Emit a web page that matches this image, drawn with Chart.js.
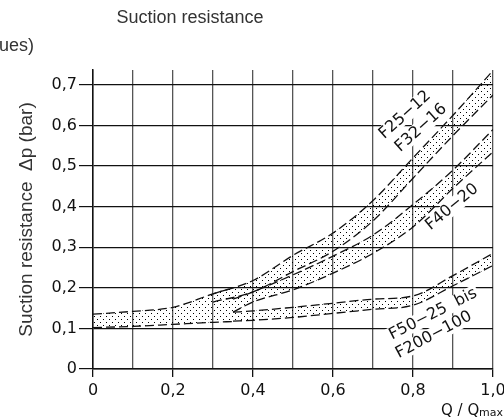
<!DOCTYPE html>
<html>
<head>
<meta charset="utf-8">
<script src="https://cdn.jsdelivr.net/npm/chart.js@4/dist/chart.umd.min.js"></script>
<style>
  html, body { margin: 0; padding: 0; background: #fff; }
  canvas { display: block; }
</style>
</head>
<body>
<canvas id="chart" width="504" height="418"></canvas>
<script>
// common start of all curves (low flow)
const qShared = [0, 0.1, 0.2, 0.3, 0.35];
const sharedHigh = [0.135, 0.142, 0.152, 0.185, 0.2];
const sharedLow = [0.102, 0.105, 0.110, 0.115, 0.117];

// F25-12 / F32-16
const qF25 = [0.3, 0.4, 0.5, 0.6, 0.7, 0.8, 0.9, 1.0];
const f25High = [0.185, 0.218, 0.28, 0.335, 0.415, 0.52, 0.625, 0.735];
const f25Low = [0.165, 0.19, 0.24, 0.29, 0.365, 0.47, 0.575, 0.675];

// F40-20
const qF40 = [0.35, 0.4, 0.5, 0.6, 0.7, 0.8, 0.9, 1.0];
const f40High = [0.172, 0.19, 0.232, 0.278, 0.33, 0.405, 0.49, 0.59];
const f40Low = [0.14, 0.165, 0.195, 0.236, 0.285, 0.35, 0.445, 0.535];

// F50-25 bis / F200-100
const qF50 = [0.35, 0.4, 0.5, 0.6, 0.7, 0.8, 0.9, 1.0];
const f50High = [0.14, 0.143, 0.152, 0.162, 0.172, 0.18, 0.23, 0.285];
const f50Low = [0.118, 0.12, 0.127, 0.137, 0.147, 0.157, 0.205, 0.255];

const xTicks = [0, 0.2, 0.4, 0.6, 0.8, 1.0];

// curve labels: text, position in chart units, angle
const curveLabels = [
    { text: "F25\u221212", q: 0.78, v: 0.626, angle: -42 },
    { text: "F32\u221216", q: 0.82, v: 0.594, angle: -42 },
    { text: "F40\u221220", q: 0.8975, v: 0.399, angle: -40 },
    { text: "F50\u221225  bis", q: 0.85, v: 0.135, angle: -27 },
    { text: "F200\u2212100", q: 0.852, v: 0.084, angle: -28 }
];

const fmt = v => (Math.abs(v) < 1e-9 ? "0" : v.toFixed(1).replace(".", ","));

function dotPattern() {
    let c = document.createElement("canvas");
    c.width = 6;
    c.height = 6;
    let g = c.getContext("2d");
    g.fillStyle = "#000";
    g.fillRect(1, 1, 1, 1);
    g.fillRect(4, 4, 1, 1);
    return g.createPattern(c, "repeat");
}

const pattern = dotPattern();

function pts(qs, vs) {
    return qs.map((q, i) => ({ x: q, y: vs[i] }));
}

function band(qs, high, low) {
    let edge = {
        borderColor: "#111",
        borderWidth: 1.3,
        borderDash: [9, 4],
        pointRadius: 0,
        cubicInterpolationMode: "monotone"
    };
    return [
        Object.assign({ data: pts(qs, high), fill: "+1", backgroundColor: pattern }, edge),
        Object.assign({ data: pts(qs, low), fill: false, backgroundColor: "transparent" }, edge)
    ];
}

const textPlugin = {
    id: "texts",
    afterDraw(chart) {
        let ctx = chart.ctx;
        let xs = chart.scales.x, ys = chart.scales.y;
        ctx.save();
        ctx.fillStyle = "#333";
        ctx.font = "18px 'Liberation Sans', Arial, sans-serif";
        ctx.textBaseline = "middle";
        ctx.textAlign = "center";
        ctx.fillText("Suction resistance", 190, 18);
        ctx.textAlign = "left";
        ctx.fillText("ues)", -1, 46);

        // x axis title
        ctx.fillStyle = "#111";
        ctx.font = "15px 'DejaVu Sans', sans-serif";
        ctx.textAlign = "left";
        ctx.textBaseline = "alphabetic";
        ctx.fillText("Q / Q", 441, 415);
        ctx.font = "11px 'DejaVu Sans', sans-serif";
        ctx.fillText("max", 479, 416);

        // curve labels
        ctx.font = "16px 'DejaVu Sans', sans-serif";
        ctx.textAlign = "center";
        ctx.textBaseline = "middle";
        for (const l of curveLabels) {
            let px = xs.getPixelForValue(l.q);
            let py = ys.getPixelForValue(l.v);
            ctx.save();
            ctx.translate(px, py);
            ctx.rotate(l.angle * Math.PI / 180);
            ctx.fillStyle = "#fff";
            let w = ctx.measureText(l.text).width;
            ctx.fillRect(-w / 2 - 2, -8, w + 4, 16);
            ctx.fillStyle = "#111";
            ctx.fillText(l.text, 0, 0);
            ctx.restore();
        }
        ctx.restore();
    }
};

const datasets = [].concat(
    band(qShared, sharedHigh, sharedLow),
    band(qF25, f25High, f25Low),
    band(qF40, f40High, f40Low),
    band(qF50, f50High, f50Low)
);

new Chart(document.getElementById("chart"), {
    type: "line",
    data: { datasets: datasets },
    options: {
        responsive: false,
        animation: false,
        devicePixelRatio: 1,
        layout: { padding: { top: 70, right: 11, left: 0, bottom: 0 } },
        plugins: {
            legend: { display: false },
            tooltip: { enabled: false }
        },
        scales: {
            x: {
                type: "linear",
                min: 0,
                max: 1,
                afterFit: s => { s.height = 49; s.paddingLeft = 0; s.paddingRight = 0; },
                ticks: {
                    stepSize: 0.1,
                    autoSkip: false,
                    maxRotation: 0,
                    padding: 4,
                    color: "#111",
                    font: { family: "'DejaVu Sans', sans-serif", size: 16 },
                    callback: v => (xTicks.some(t => Math.abs(t - v) < 1e-6) ? fmt(v) : "")
                },
                grid: {
                    color: "#555",
                    lineWidth: 1.3,
                    tickLength: 8,
                    tickColor: c => (c.tick && xTicks.some(t => Math.abs(t - c.tick.value) < 1e-6) ? "#111" : "transparent")
                },
                border: { color: "#111", width: 1.5 }
            },
            y: {
                min: 0,
                max: 0.7365,
                afterFit: s => { s.width = 93; s.paddingTop = 0; s.paddingBottom = 0; },
                ticks: {
                    stepSize: 0.1,
                    includeBounds: false,
                    padding: 2,
                    color: "#111",
                    font: { family: "'DejaVu Sans', sans-serif", size: 16 },
                    callback: v => fmt(v)
                },
                grid: {
                    color: "#111",
                    lineWidth: 1.2,
                    tickLength: 14
                },
                border: { color: "#111", width: 1.5 },
                title: {
                    display: true,
                    text: "Suction resistance  \u0394p (bar)",
                    color: "#333",
                    font: { family: "'Liberation Sans', Arial, sans-serif", size: 19 },
                    padding: { top: 15, bottom: 0 }
                }
            }
        }
    },
    plugins: [textPlugin]
});
</script>
</body>
</html>
